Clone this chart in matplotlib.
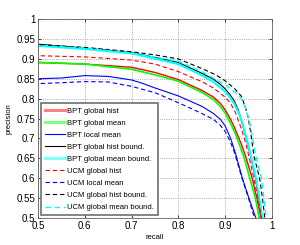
import matplotlib
matplotlib.use('Agg')
import matplotlib.pyplot as plt

plt.rcParams['font.family'] = ['Liberation Sans', 'DejaVu Sans']

# precision / recall curves
bpt_hist_r = [0.49, 0.5, 0.6, 0.7, 0.75, 0.8, 0.85, 0.875, 0.89, 0.9, 0.91, 0.92, 0.935, 0.944, 0.958, 0.968, 0.977, 0.979]
bpt_hist_p = [0.892, 0.891, 0.887, 0.879, 0.866, 0.848, 0.821, 0.804, 0.788, 0.772, 0.752, 0.728, 0.685, 0.655, 0.6, 0.55, 0.5, 0.48]

bpt_mean_r = [0.49, 0.5, 0.6, 0.7, 0.75, 0.8, 0.85, 0.875, 0.89, 0.9, 0.91, 0.92, 0.94, 0.953, 0.965, 0.973, 0.975]
bpt_mean_p = [0.892, 0.891, 0.887, 0.874, 0.86, 0.844, 0.816, 0.798, 0.78, 0.764, 0.742, 0.718, 0.655, 0.6, 0.55, 0.5, 0.48]

bpt_local_r = [0.49, 0.5, 0.55, 0.6, 0.65, 0.7, 0.72, 0.75, 0.8, 0.85, 0.875, 0.89, 0.9, 0.912, 0.923, 0.937, 0.951, 0.966, 0.968]
bpt_local_p = [0.849, 0.85, 0.852, 0.858, 0.856, 0.847, 0.84, 0.827, 0.807, 0.781, 0.763, 0.748, 0.732, 0.7, 0.66, 0.6, 0.55, 0.5, 0.48]

bpt_hist_bd_r = [0.49, 0.5, 0.6, 0.7, 0.8, 0.85, 0.875, 0.89, 0.9, 0.91, 0.92, 0.928, 0.935, 0.943, 0.955, 0.965, 0.972, 0.979, 0.981]
bpt_hist_bd_p = [0.938, 0.937, 0.927, 0.916, 0.891, 0.864, 0.849, 0.836, 0.825, 0.811, 0.794, 0.772, 0.745, 0.71, 0.655, 0.6, 0.55, 0.5, 0.48]

bpt_mean_bd_r = [0.49, 0.5, 0.6, 0.7, 0.8, 0.85, 0.875, 0.9, 0.91, 0.92, 0.93, 0.937, 0.946, 0.956, 0.966, 0.973, 0.98, 0.982]
bpt_mean_bd_p = [0.934, 0.933, 0.925, 0.914, 0.887, 0.859, 0.842, 0.818, 0.804, 0.787, 0.762, 0.738, 0.7, 0.652, 0.6, 0.55, 0.5, 0.48]

ucm_hist_r = [0.49, 0.5, 0.6, 0.7, 0.75, 0.8, 0.85, 0.875, 0.9, 0.912, 0.922, 0.935, 0.945, 0.955, 0.965, 0.972, 0.978, 0.98]
ucm_hist_p = [0.909, 0.908, 0.905, 0.897, 0.887, 0.868, 0.843, 0.827, 0.804, 0.788, 0.766, 0.724, 0.685, 0.635, 0.58, 0.54, 0.5, 0.48]

ucm_local_r = [0.49, 0.5, 0.55, 0.6, 0.65, 0.7, 0.75, 0.8, 0.85, 0.875, 0.89, 0.9, 0.91, 0.92, 0.935, 0.95, 0.963, 0.965]
ucm_local_p = [0.837, 0.838, 0.84, 0.843, 0.842, 0.831, 0.815, 0.79, 0.763, 0.748, 0.733, 0.718, 0.695, 0.665, 0.605, 0.55, 0.5, 0.48]

ucm_hist_bd_r = [0.49, 0.5, 0.6, 0.7, 0.75, 0.8, 0.85, 0.88, 0.9, 0.92, 0.935, 0.943, 0.95, 0.956, 0.962, 0.974, 0.98, 0.985, 0.987]
ucm_hist_bd_p = [0.937, 0.936, 0.929, 0.918, 0.91, 0.90, 0.876, 0.86, 0.845, 0.826, 0.806, 0.78, 0.75, 0.705, 0.655, 0.6, 0.55, 0.5, 0.48]

ucm_mean_bd_r = [0.49, 0.5, 0.6, 0.7, 0.8, 0.85, 0.9, 0.92, 0.935, 0.945, 0.952, 0.959, 0.967, 0.978, 0.983, 0.988, 0.99]
ucm_mean_bd_p = [0.935, 0.934, 0.927, 0.915, 0.894, 0.868, 0.835, 0.818, 0.80, 0.772, 0.745, 0.70, 0.65, 0.6, 0.55, 0.5, 0.48]

fig = plt.figure(figsize=(3.0, 2.45), dpi=100)
ax = fig.add_axes([0.127, 0.110, 0.779, 0.812])

ax.plot(bpt_hist_r, bpt_hist_p, color='#ff0000', lw=1.0, label='BPT global hist')
ax.plot(bpt_mean_r, bpt_mean_p, color='#00ff00', lw=1.2, label='BPT global mean')
ax.plot(bpt_local_r, bpt_local_p, color='#0000ff', lw=0.8, label='BPT local mean')
ax.plot(bpt_hist_bd_r, bpt_hist_bd_p, color='black', lw=0.8, label='BPT global hist bound.')
ax.plot(bpt_mean_bd_r, bpt_mean_bd_p, color='#00ffff', lw=1.5, label='BPT global mean bound.')
ax.plot(ucm_hist_r, ucm_hist_p, color='#ff0000', lw=0.8, ls=(0, (4, 2.5)), label='UCM global hist')
ax.plot(ucm_local_r, ucm_local_p, color='#0000ff', lw=0.8, ls=(0, (4, 2.5)), label='UCM local mean')
ax.plot(ucm_hist_bd_r, ucm_hist_bd_p, color='black', lw=0.8, ls=(0, (4, 2.5)), label='UCM global hist bound.')
ax.plot(ucm_mean_bd_r, ucm_mean_bd_p, color='#00ffff', lw=1.0, ls=(0, (4, 2.5)), label='UCM global mean bound.')

ax.set_xlim(0.5, 1)
ax.set_ylim(0.5, 1)
ax.set_xticks([0.5, 0.6, 0.7, 0.8, 0.9, 1.0])
ax.set_xticklabels(['0.5', '0.6', '0.7', '0.8', '0.9', '1'])
ax.set_yticks([0.5, 0.55, 0.6, 0.65, 0.7, 0.75, 0.8, 0.85, 0.9, 0.95, 1.0])
ax.set_yticklabels(['0.5', '0.55', '0.6', '0.65', '0.7', '0.75', '0.8', '0.85', '0.9', '0.95', '1'])
ax.tick_params(direction='in', length=2.5, width=0.5, labelsize=7, pad=2,
               top=True, right=True)
ax.grid(True, ls=':', lw=0.6, color='#909090')
for s in ax.spines.values():
    s.set_linewidth(0.6)
    s.set_color('#606060')

ax.set_xlabel('recall', fontsize=5.5, labelpad=2)
ax.set_ylabel('precision', fontsize=5.5, labelpad=3)

leg = ax.legend(loc='lower left', fontsize=5.5, handlelength=2.6, labelspacing=0.62,
                borderpad=0.5, handletextpad=0.3, fancybox=False,
                framealpha=1, borderaxespad=0.4)
leg.get_frame().set_edgecolor('#707070')
leg.get_frame().set_linewidth(1.2)
# MATLAB draws the thick solid handles lighter
for h, c in zip(leg.legend_handles, ['#ff8080', '#80ff80', None, None, '#80ffff']):
    if c:
        h.set_color(c)
        h.set_linewidth(2.2)

fig.savefig('out.png', dpi=100)
